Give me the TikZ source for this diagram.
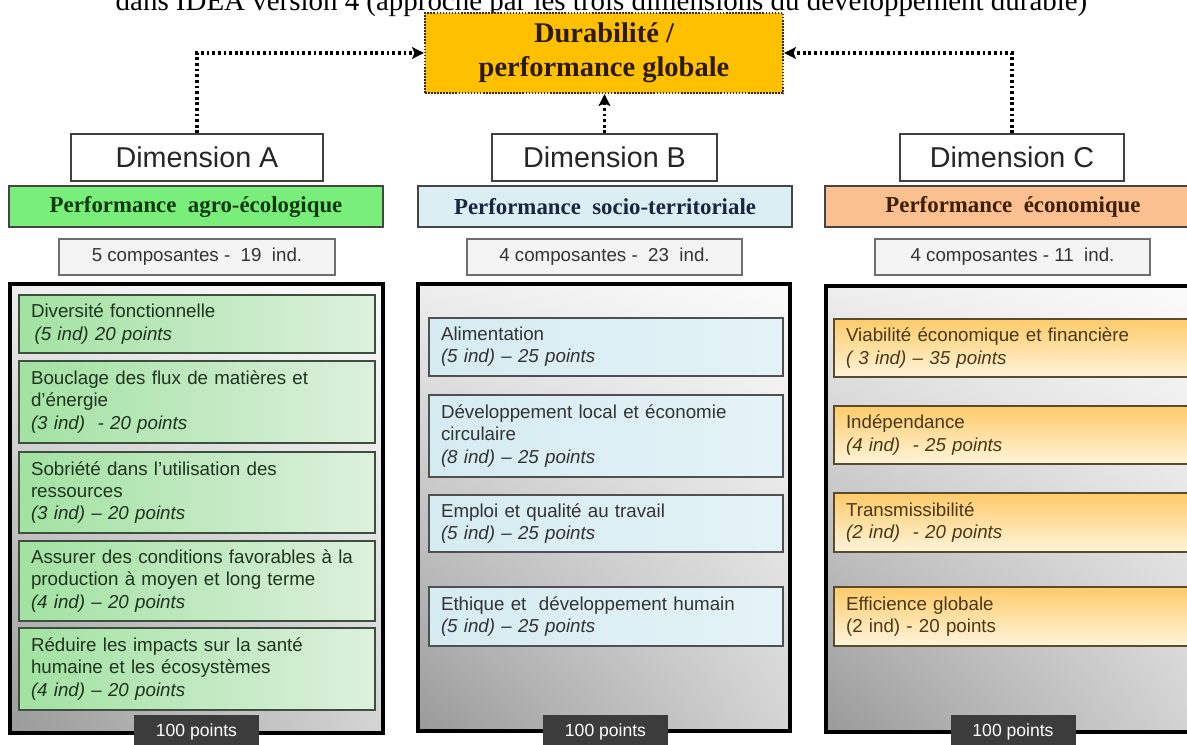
\documentclass[tikz,border=0pt]{standalone}
\usepackage{fontspec}
\setmainfont{Liberation Serif}
\setsansfont{Liberation Sans}
\usetikzlibrary{arrows.meta,shadings}
\definecolor{globfill}{HTML}{FFC000}
\definecolor{globborder}{HTML}{3B2A12}
\definecolor{globtext}{HTML}{2B1A05}
\definecolor{dimborder}{HTML}{404040}
\definecolor{dimtext}{HTML}{262626}
\definecolor{perfAfill}{HTML}{7AEE7A}
\definecolor{perfAtext}{HTML}{0E3B0E}
\definecolor{perfBfill}{HTML}{DAEEF3}
\definecolor{perfBtext}{HTML}{1A2540}
\definecolor{perfCfill}{HTML}{FAC090}
\definecolor{perfCtext}{HTML}{3D1F00}
\definecolor{perfborder}{HTML}{454545}
\definecolor{compfill}{HTML}{F4F4F4}
\definecolor{compborder}{HTML}{6E6E6E}
\definecolor{comptext}{HTML}{333333}
\definecolor{bigUL}{HTML}{EEEEEE}
\definecolor{bigUR}{HTML}{FBFBFB}
\definecolor{bigLL}{HTML}{9A9A9A}
\definecolor{bigLR}{HTML}{D4D4D4}
\definecolor{subAleft}{HTML}{A2E2A2}
\definecolor{subAright}{HTML}{DDF0DD}
\definecolor{subAborder}{HTML}{3F4F3F}
\definecolor{subAtext}{HTML}{1E341E}
\definecolor{subBleft}{HTML}{D5ECF2}
\definecolor{subBright}{HTML}{E4F3F7}
\definecolor{subBborder}{HTML}{505050}
\definecolor{subBtext}{HTML}{333333}
\definecolor{subCtop}{HTML}{FFCB6A}
\definecolor{subCbottom}{HTML}{FFF4DA}
\definecolor{subCborder}{HTML}{5A4A30}
\definecolor{subCtext}{HTML}{4A3818}
\definecolor{tabfill}{HTML}{3C3C3C}
\def\pu{0.03cm}
\begin{document}
\begin{tikzpicture}[x=0.03cm,y=-0.03cm,
  conn/.style={line width=3.2pt, dash pattern=on 2.4pt off 2.4pt, -{Stealth[length=10pt,width=10pt,inset=2pt]}},
  globbox/.style={draw=globborder, fill=globfill, line width=2pt, dash pattern=on 1.4pt off 1.2pt, text=globtext, align=center, font=\bfseries\fontsize{24.3}{29}\selectfont, inner sep=0pt},
  dimbox/.style={draw=dimborder, line width=1.2pt, fill=white, font=\sffamily\fontsize{24.5}{28}\selectfont, text=dimtext, inner sep=0pt, minimum height=47*\pu},
  perfbox/.style={draw=perfborder, line width=2.4pt, font=\bfseries\fontsize{19.5}{22}\selectfont, inner sep=0pt, minimum height=41*\pu},
  compbox/.style={draw=compborder, line width=1.6pt, fill=compfill, font=\sffamily\fontsize{16}{19}\selectfont, text=comptext, inner sep=0pt, minimum height=36*\pu},
  bigbox/.style={draw=black, line width=2.8pt, upper left=bigUL, upper right=bigUR, lower left=bigLL, lower right=bigLR, inner sep=0pt},
  subbox/.style={line width=1.4pt, align=left, font=\sffamily\fontsize{16}{19}\selectfont, inner xsep=12*\pu, inner ysep=0pt},
  subA/.style={subbox, draw=subAborder, left color=subAleft, right color=subAright, text=subAtext, minimum width=356*\pu, text width=332*\pu},
  subB/.style={subbox, draw=subBborder, left color=subBleft, right color=subBright, text=subBtext, minimum width=354*\pu, text width=330*\pu},
  subC/.style={subbox, draw=subCborder, top color=subCtop, bottom color=subCbottom, text=subCtext, minimum width=356*\pu, text width=332*\pu},
  tabbox/.style={fill=tabfill, text=white, font=\sffamily\fontsize{15}{17}\selectfont, inner sep=0pt, minimum width=125*\pu, minimum height=33*\pu}
]
\useasboundingbox (0,0) rectangle (1187,744);
\clip (0,0) rectangle (1187,744);

% caption (cut at the top, as in the source)
\node[font=\fontsize{24.7}{28}\selectfont, anchor=base, inner sep=0pt] (title) at (601.5,10)
  {dans IDEA version 4 (approche par les trois dimensions du développement durable)};

% global box
\node[globbox, minimum width=358*\pu, minimum height=80*\pu] (glob) at (604,53)
  {Durabilité /\\performance globale};

% dimensions
\node[dimbox, minimum width=252*\pu] (dimA) at (197,157.5) {Dimension A};
\node[dimbox, minimum width=225*\pu] (dimB) at (604.5,157.5) {Dimension B};
\node[dimbox, minimum width=224*\pu] (dimC) at (1012,157.5) {Dimension C};

% connectors
\draw[conn] (dimA.north) |- (glob.west);
\draw[conn] (dimC.north) |- (glob.east);
\draw[conn] (dimB.north) -- (dimB.north |- glob.south);

% performance bars
\node[perfbox, fill=perfAfill, text=perfAtext, minimum width=374*\pu] (perfA) at (196,206.5) {Performance\ \ agro-écologique};
\node[perfbox, fill=perfBfill, text=perfBtext, minimum width=374*\pu] (perfB) at (605,206.5) {Performance\ \ socio-territoriale};
\node[perfbox, fill=perfCfill, text=perfCtext, minimum width=376*\pu] (perfC) at (1013,206.5) {Performance\ \ économique};

% composantes
\node[compbox, minimum width=276*\pu] (compA) at (197,257) {5 composantes -\ \ 19\ \ ind.};
\node[compbox, minimum width=275*\pu] (compB) at (604.5,257) {4 composantes -\ \ 23\ \ ind.};
\node[compbox, minimum width=275*\pu] (compC) at (1012.5,257) {4 composantes - 11\ \ ind.};

% big boxes
\node[bigbox, minimum width=373*\pu, minimum height=449*\pu] (bigA) at (196.5,508.5) {};
\node[bigbox, minimum width=372*\pu, minimum height=447*\pu] (bigB) at (604,507.5) {};
\node[bigbox, minimum width=372*\pu, minimum height=446*\pu] (bigC) at (1012,509) {};

% A components
\node[subA, minimum height=58*\pu] (a1) at (197,324) {Diversité fonctionnelle\\\textit{\hspace{3pt}(5 ind) 20 points}};
\node[subA, minimum height=82*\pu] (a2) at (197,402) {Bouclage des flux de matières et\\d'énergie\\\textit{(3 ind)\ \ - 20 points}};
\node[subA, minimum height=81*\pu] (a3) at (197,492.5) {Sobriété dans l'utilisation des\\ressources\\\textit{(3 ind) – 20 points}};
\node[subA, minimum height=80*\pu] (a4) at (197,581) {Assurer des conditions favorables à la\\production à moyen et long terme\\\textit{(4 ind) – 20 points}};
\node[subA, minimum height=82*\pu] (a5) at (197,669) {Réduire les impacts sur la santé\\humaine et les écosystèmes\\\textit{(4 ind) – 20 points}};

% B components
\node[subB, minimum height=58*\pu] (b1) at (606,347) {Alimentation\\\textit{(5 ind) – 25 points}};
\node[subB, minimum height=82*\pu] (b2) at (606,436) {Développement local et économie\\circulaire\\\textit{(8 ind) – 25 points}};
\node[subB, minimum height=57*\pu] (b3) at (606,523.5) {Emploi et qualité au travail\\\textit{(5 ind) – 25 points}};
\node[subB, minimum height=59*\pu] (b4) at (606,616.5) {Ethique et\ \ développement humain\\\textit{(5 ind) – 25 points}};

% C components
\node[subC, minimum height=58*\pu] (c1) at (1012,348) {Viabilité économique et financière\\\textit{( 3 ind) – 35 points}};
\node[subC, minimum height=58*\pu] (c2) at (1012,435) {Indépendance\\\textit{(4 ind)\ \ - 25 points}};
\node[subC, minimum height=59*\pu] (c3) at (1012,522.5) {Transmissibilité\\\textit{(2 ind)\ \ - 20 points}};
\node[subC, minimum height=59*\pu] (c4) at (1012,616.5) {Efficience globale\\(2 ind) - 20 points};

% 100 points tabs
\node[tabbox] (tabA) at (196.5,731.5) {100 points};
\node[tabbox] (tabB) at (605.5,731.5) {100 points};
\node[tabbox] (tabC) at (1013,731.5) {100 points};
\end{tikzpicture}
\end{document}
